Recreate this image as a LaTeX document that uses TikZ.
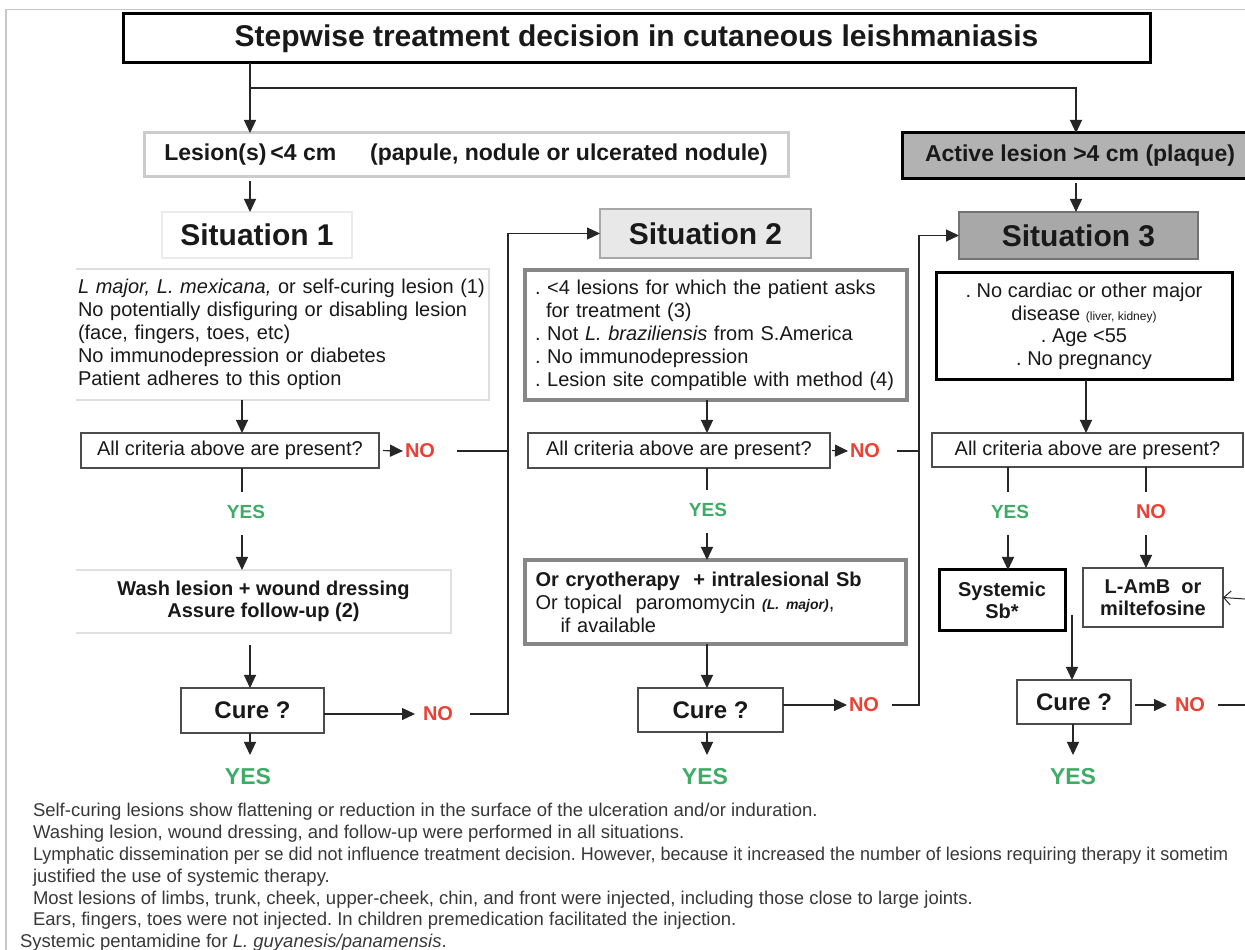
\documentclass[tikz,border=0pt]{standalone}
\usepackage{fontspec}
\setmainfont{Liberation Sans}
\usetikzlibrary{arrows.meta}
\frenchspacing

\newcommand{\titlefont}{\fontsize{30}{30}\selectfont\bfseries}
\newcommand{\sitfont}{\fontsize{30}{30}\selectfont\bfseries}
\newcommand{\headfont}{\fontsize{23}{23}\selectfont\bfseries}
\newcommand{\critfont}{\fontsize{20}{23}\selectfont}
\newcommand{\actfont}{\fontsize{20}{21.5}\selectfont\bfseries}
\newcommand{\curefont}{\fontsize{24}{24}\selectfont\bfseries}
\newcommand{\notefont}{\fontsize{18.5}{20}\selectfont}

\begin{document}
\begin{tikzpicture}[x=1pt,y=1pt,
  box/.style={inner sep=0pt,outer sep=0pt,align=center,text=textColor},
  decbox/.style={box,draw=decColor,line width=1.2pt,font=\critfont},
  curebox/.style={box,draw=decColor,line width=1.5pt,font=\curefont},
  arr/.style={draw=lineColor,line width=1.2pt,-{Triangle[length=13pt,width=12pt]}},
  link/.style={draw=lineColor,line width=1.2pt},
  yes/.style={inner sep=0pt,outer sep=0pt,minimum height=40pt,text=yesColor,font=\fontsize{19}{19}\selectfont\bfseries},
  yesend/.style={inner sep=0pt,outer sep=0pt,minimum height=44pt,text=yesColor,font=\fontsize{23}{23}\selectfont\bfseries},
  no/.style={inner xsep=2pt,inner ysep=0pt,outer sep=0pt,minimum height=40pt,text=noColor,font=\fontsize{20}{20}\selectfont\bfseries},
  note/.style={anchor=base west,inner sep=0pt,outer sep=0pt,text=noteColor,font=\notefont}]
\definecolor[named]{lineColor}{rgb}{0.15,0.15,0.15}
\definecolor[named]{textColor}{rgb}{0.10,0.10,0.10}
\definecolor[named]{decColor}{rgb}{0.30,0.30,0.30}
\definecolor[named]{yesColor}{rgb}{0.24,0.68,0.40}
\definecolor[named]{noColor}{rgb}{0.92,0.25,0.20}
\definecolor[named]{noteColor}{rgb}{0.22,0.22,0.22}
\definecolor[named]{frameColor}{rgb}{0.78,0.78,0.78}
\path[use as bounding box,fill=white] (0,0) rectangle (1245,950);
\begin{scope}
\path[clip] (  0.00,  0.00) rectangle (1245.00,950.00);

% outer frame of the figure
\path[draw=frameColor,line width=1pt] (  5.00,940.00) -- (1245.00,940.00);
\path[draw=frameColor,line width=1.2pt] (  6.00,940.00) -- (  6.00,  0.00);

% title and the two entry boxes
\node[box,draw=black,line width=3pt,minimum width=1027pt,minimum height=49pt,font=\titlefont] (title) at (636.50,911.50) {Stepwise treatment decision in cutaneous leishmaniasis};

\definecolor[named]{drawColor}{rgb}{0.80,0.80,0.80}
\node[box,draw=drawColor,line width=3pt,minimum width=644pt,minimum height=44pt,font=\headfont] (lesion) at (466.00,795.00) {Lesion(s)\,<4 cm\hspace{34pt}(papule, nodule or ulcerated nodule)};

\definecolor[named]{fillColor}{rgb}{0.70,0.70,0.70}
\node[box,draw=black,fill=fillColor,line width=3pt,minimum width=356pt,minimum height=46pt,font=\headfont] (active) at (1080.00,794.00) {Active lesion >4 cm (plaque)};

% situation headers
\definecolor[named]{drawColor}{rgb}{0.92,0.92,0.92}
\node[box,draw=drawColor,line width=1.5pt,minimum width=190pt,minimum height=46pt,font=\sitfont] (sit1) at (257.00,715.00) {Situation 1};

\definecolor[named]{drawColor}{rgb}{0.66,0.66,0.66}
\definecolor[named]{fillColor}{rgb}{0.91,0.91,0.91}
\node[box,draw=drawColor,fill=fillColor,line width=2pt,minimum width=211pt,minimum height=49pt,font=\sitfont] (sit2) at (705.50,716.50) {Situation 2};

\definecolor[named]{drawColor}{rgb}{0.45,0.45,0.45}
\definecolor[named]{fillColor}{rgb}{0.66,0.66,0.66}
\node[box,draw=drawColor,fill=fillColor,line width=2pt,minimum width=239pt,minimum height=47pt,font=\sitfont] (sit3) at (1078.50,714.50) {Situation 3};

% criteria boxes
\node[box,align=left,minimum width=413pt,minimum height=131pt,text width=409pt,font=\critfont] (crit1) at (282.50,615.50) {\textit{L major, L. mexicana,} or self-curing lesion (1)\\
No potentially disfiguring or disabling lesion\\
(face, fingers, toes, etc)\\
No immunodepression or diabetes\\
Patient adheres to this option};
\definecolor[named]{drawColor}{rgb}{0.87,0.87,0.87}
\path[draw=drawColor,line width=2pt] (crit1.north west) -- (crit1.north east) -- (crit1.south east) -- (crit1.south west);

\definecolor[named]{drawColor}{rgb}{0.53,0.53,0.53}
\node[box,draw=drawColor,line width=3.2pt,align=left,minimum width=382pt,minimum height=130pt,text width=362pt,font=\critfont] (crit2) at (716.00,615.00) {. <4 lesions for which the patient asks\\
\hspace*{11pt}for treatment (3)\\
. Not \textit{L. braziliensis} from S.America\\
. No immunodepression\\
. Lesion site compatible with method (4)};

\node[box,draw=black,line width=3pt,minimum width=296pt,minimum height=107pt,font=\fontsize{20}{22.5}\selectfont] (crit3) at (1084.00,623.50) {. No cardiac or other major\\
disease {\fontsize{12}{12}\selectfont(liver, kidney)}\\
. Age <55\\
. No pregnancy};

% decisions
\node[decbox,minimum width=298pt,minimum height=35pt] (dec1) at (230.00,499.50) {All criteria above are present?};
\node[decbox,minimum width=302pt,minimum height=35pt] (dec2) at (679.00,499.50) {All criteria above are present?};
\node[decbox,minimum width=311pt,minimum height=34pt] (dec3) at (1087.50,500.00) {All criteria above are present?};

\node[no] (no1) at (420.00,499.00) {NO};
\node[no] (no2) at (865.00,499.00) {NO};
\node[yes] (yes1) at (246.00,438.00) {YES};
\node[yes] (yes2) at (708.00,440.00) {YES};
\node[yes] (yes3) at (1010.00,438.00) {YES};
\node[no] (no3) at (1151.00,438.00) {NO};

% treatments
\node[box,minimum width=375pt,minimum height=63pt,font=\actfont] (treat1) at (263.50,348.50) {Wash lesion + wound dressing\\Assure follow-up (2)};
\definecolor[named]{drawColor}{rgb}{0.88,0.88,0.88}
\path[draw=drawColor,line width=2pt] (treat1.north west) -- (treat1.north east) -- (treat1.south east) -- (treat1.south west);

\definecolor[named]{drawColor}{rgb}{0.53,0.53,0.53}
\node[box,draw=drawColor,line width=3.5pt,align=left,minimum width=381pt,minimum height=84pt,text width=360pt,font=\fontsize{20}{23}\selectfont] (treat2) at (715.50,348.00) {\textbf{Or cryotherapy\ \ + intralesional Sb}\\
Or topical\ \ paromomycin {\fontsize{14}{14}\selectfont\bfseries\itshape(L. major)},\\
\hspace*{25pt}if available};

\node[box,draw=black,line width=3pt,minimum width=126pt,minimum height=61pt,font=\actfont] (sys) at (1002.00,349.50) {Systemic\\Sb*};
\node[box,draw=decColor,line width=1.5pt,minimum width=140pt,minimum height=59pt,font=\actfont] (lamb) at (1153.00,352.50) {L-AmB\ \ or\\miltefosine};

% cure checks
\node[curebox,minimum width=143pt,minimum height=45pt] (cure1) at (252.50,239.50) {Cure ?};
\node[curebox,minimum width=145pt,minimum height=44pt] (cure2) at (710.50,240.00) {Cure ?};
\node[curebox,minimum width=114pt,minimum height=44pt] (cure3) at (1074.00,248.00) {Cure ?};

\node[no] (no1b) at (438.00,236.00) {NO};
\node[no] (no2b) at (864.00,245.00) {NO};
\node[no] (no3b) at (1190.00,245.00) {NO};
\node[yesend] (yesc1) at (248.00,173.00) {YES};
\node[yesend] (yesc2) at (705.00,173.00) {YES};
\node[yesend] (yesc3) at (1073.00,173.00) {YES};

% column positions of the connectors
\coordinate (colA) at (250.00,0);
\coordinate (col1) at (242.00,0);
\coordinate (col2) at (707.00,0);
\coordinate (col3) at (1076.00,0);
\coordinate (col3b) at (1086.00,0);
\coordinate (colY) at (1008.00,0);
\coordinate (colN) at (1146.00,0);
\coordinate (colC) at (1073.00,0);
\coordinate (v1) at (508.00,0);
\coordinate (v2) at (919.00,0);
\coordinate (split) at (250.00,862.00);
\coordinate (mid3) at (1072.00,335.00);
\coordinate (rin) at (1245.00,351.00);
\coordinate (rout) at (1245.00,245.00);

% top
\path[arr] (title.south -| colA) -- (lesion.north -| colA);
\path[arr] (split) -| (active.north -| col3);
\path[arr,shorten <=4pt] (lesion.south -| colA) -- (sit1.north -| colA);
\path[arr,shorten <=4pt] (active.south -| col3) -- (sit3.north -| col3);

% situation 1
\path[arr] (crit1.south -| col1) -- (dec1.north -| col1);
\path[link] (dec1.south -| col1) -- (yes1.north -| col1);
\path[arr,shorten <=3pt] (yes1.south -| col1) -- (treat1.north -| col1);
\path[arr,shorten <=12pt] (treat1.south -| colA) -- (cure1.north -| colA);
\path[arr] (cure1.south -| colA) -- (yesc1.north -| colA);
\path[arr,shorten <=4pt] (dec1.east) -- (no1.west);
\path[link,shorten <=20pt] (no1.east) -- (no1.east -| v1);
\path[arr,shorten >=6pt] (cure1.east |- no1b) -- (no1b.west);
\path[arr,shorten <=15pt] (no1b.east) -- (no1b.east -| v1) -- (sit2.west -| v1) -- (sit2.west);

% situation 2
\path[arr] (crit2.south -| col2) -- (dec2.north -| col2);
\path[link] (dec2.south -| col2) -- (yes2.north -| col2);
\path[arr,shorten <=3pt] (yes2.south -| col2) -- (treat2.north -| col2);
\path[arr] (treat2.south -| col2) -- (cure2.north -| col2);
\path[arr] (cure2.south -| col2) -- (yesc2.north -| col2);
\path[arr,shorten <=2pt] (dec2.east) -- (no2.west);
\path[link,shorten <=15pt] (no2.east) -- (no2.east -| v2);
\path[arr] (cure2.east |- no2b) -- (no2b.west);
\path[arr,shorten <=11pt] (no2b.east) -- (no2b.east -| v2) -- (sit3.west -| v2) -- (sit3.west);

% situation 3
\path[arr] (crit3.south -| col3b) -- (dec3.north -| col3b);
\path[link] (dec3.south -| colY) -- (yes3.north -| colY);
\path[link] (dec3.south -| colN) -- (no3.north -| colN);
\path[arr,shorten <=3pt] (yes3.south -| colY) -- (sys.north -| colY);
\path[arr,shorten <=3pt] (no3.south -| colN) -- (lamb.north -| colN);
\path[draw=lineColor,line width=1pt,-{Straight Barb[length=7pt,width=14pt]}] (rin) -- (lamb.east);
\path[arr] (mid3) -- (cure3.north -| mid3);
\path[arr] (cure3.south -| colC) -- (yesc3.north -| colC);
\path[arr,shorten <=4pt,shorten >=6pt] (cure3.east |- no3b) -- (no3b.west);
\path[link,shorten <=11pt] (no3b.east) -- (rout);

% notes under the chart
\node[note] (note1) at ( 33.00,133.00) {Self-curing lesions show flattening or reduction in the surface of the ulceration and/or induration.};
\node[note] (note2) at ( 33.00,111.20) {Washing lesion, wound dressing, and follow-up were performed in all situations.};
\node[note,xscale=0.97] (note3) at ( 33.00, 89.40) {Lymphatic dissemination per se did not influence treatment decision. However, because it increased the number of lesions requiring therapy it sometim};
\node[note] (note4) at ( 33.00, 67.60) {justified the use of systemic therapy.};
\node[note] (note5) at ( 33.00, 45.80) {Most lesions of limbs, trunk, cheek, upper-cheek, chin, and front were injected, including those close to large joints.};
\node[note] (note6) at ( 33.00, 24.00) {Ears, fingers, toes were not injected. In children premedication facilitated the injection.};
\node[note] (note7) at ( 20.00,  2.20) {Systemic pentamidine for \textit{L. guyanesis/panamensis}.};
\end{scope}
\end{tikzpicture}
\end{document}
